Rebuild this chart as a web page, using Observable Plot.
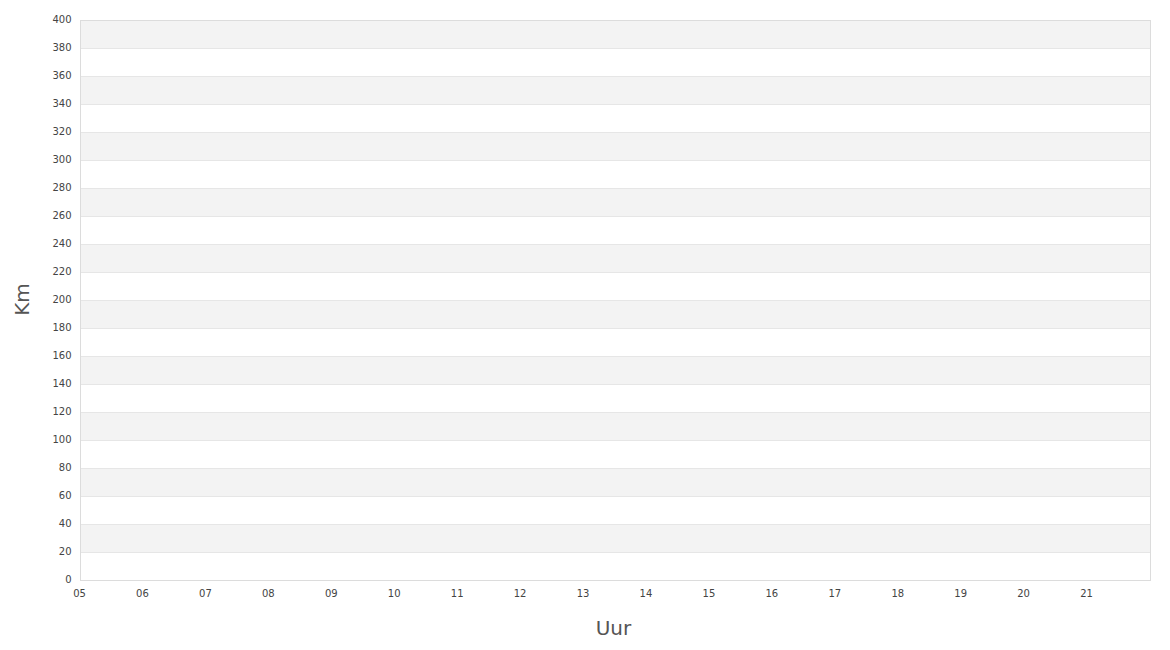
<!DOCTYPE html>
<html>
<head>
<meta charset="utf-8">
<script src="https://cdn.jsdelivr.net/npm/d3@7"></script>
<script src="https://cdn.jsdelivr.net/npm/@observablehq/plot@0.6"></script>
<style>
  html, body { margin: 0; padding: 0; background: #fff; }
  #chart svg { display: block; }
</style>
</head>
<body>
<div id="chart"></div>
<script>
// Hours on the x axis (label text and numeric value)
const hourValues = [5, 6, 7, 8, 9, 10, 11, 12, 13, 14, 15, 16, 17, 18, 19, 20, 21];
const hourLabels = ["05","06","07","08","09","10","11","12","13","14","15","16","17","18","19","20","21"];
const xDomain = [5, 22];
// Km ticks on the y axis
const kmTicks = [0, 20, 40, 60, 80, 100, 120, 140, 160, 180, 200, 220, 240, 260, 280, 300, 320, 340, 360, 380, 400];
const yDomain = [0, 400];
// Series data (empty in reference)
const seriesData = [];

const bands = kmTicks.slice(0, -1)
  .map((v, i) => ({y1: v, y2: kmTicks[i + 1], i}))
  .filter(d => d.i % 2 === 1);

const chart = Plot.plot({
  width: 1170,
  height: 650,
  marginLeft: 80,
  marginRight: 20,
  marginTop: 20,
  marginBottom: 70,
  style: {fontFamily: "DejaVu Sans", fontSize: "10px", color: "#444", background: "#fff"},
  x: {domain: xDomain, ticks: hourValues, tickFormat: (d) => hourLabels[hourValues.indexOf(d)], tickSize: 0, tickPadding: 8, label: null},
  y: {domain: yDomain, ticks: kmTicks, tickSize: 0, tickPadding: 9, label: null},
  marks: [
    Plot.rect(bands, {x1: xDomain[0], x2: xDomain[1], y1: "y1", y2: "y2", fill: "#f3f3f3"}),
    Plot.ruleY(kmTicks, {stroke: "#e6e6e6", strokeWidth: 1}),
    Plot.frame({stroke: "#dcdcdc"}),
    Plot.axisX({ticks: hourValues, tickFormat: (d) => hourLabels[hourValues.indexOf(d)], tickSize: 0, tickPadding: 8, dy: 1, dx: -1, label: null, fill: "#444"}),
    Plot.axisY({ticks: kmTicks, tickSize: 0, tickPadding: 9, dy: -1, label: null, fill: "#444"}),
    Plot.text(["Uur"], {frameAnchor: "bottom", dy: 48, dx: -2, fontSize: 20, fill: "#555", lineAnchor: "middle"}),
    Plot.text(["Km"], {frameAnchor: "left", dx: -58, dy: -1, rotate: -90, fontSize: 20, fill: "#555", textAnchor: "middle"}),
    Plot.line(seriesData, {x: "hour", y: "km"})
  ]
});
document.getElementById("chart").appendChild(chart);
</script>
</body>
</html>
